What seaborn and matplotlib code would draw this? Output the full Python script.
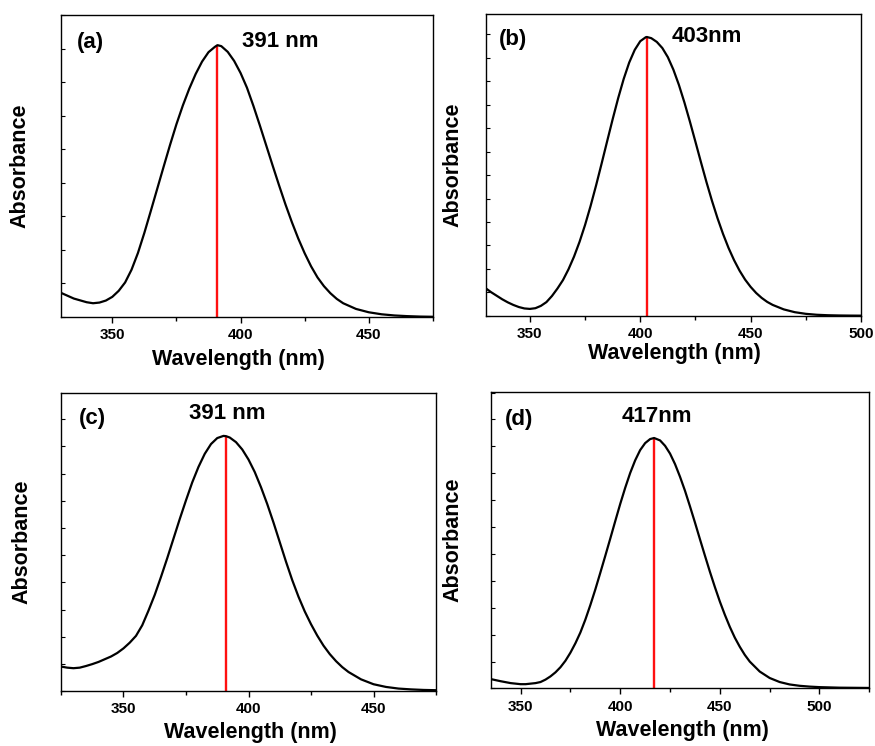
import matplotlib
matplotlib.use("Agg")
import matplotlib.pyplot as plt
from matplotlib.ticker import MultipleLocator, FixedLocator, NullFormatter
import pandas as pd
import seaborn as sns

# ---- UV-Vis spectra (wavelength in nm, absorbance in arbitrary units) ----
wl_a = [330, 335, 340, 342.5, 345, 347.5, 350, 352.5, 355, 357.5, 360, 362.5, 365, 367.5,
        370, 372.5, 375, 377.5, 380, 382.5, 385, 387.5, 390, 391, 392.5, 395, 397.5, 400,
        402.5, 405, 407.5, 410, 412.5, 415, 417.5, 420, 422.5, 425, 427.5, 430, 432.5, 435,
        437.5, 440, 445, 450, 455, 460, 465, 470, 475]
abs_a = [0.72, 0.55, 0.44, 0.41, 0.43, 0.49, 0.60, 0.78, 1.03, 1.41, 1.91, 2.51, 3.16, 3.82,
         4.48, 5.13, 5.75, 6.31, 6.81, 7.25, 7.62, 7.90, 8.06, 8.11, 8.08, 7.91, 7.64, 7.28,
         6.84, 6.30, 5.72, 5.12, 4.52, 3.93, 3.36, 2.83, 2.34, 1.90, 1.51, 1.18, 0.92, 0.71,
         0.54, 0.41, 0.24, 0.14, 0.08, 0.045, 0.025, 0.012, 0.006]

wl_b = [330, 332.5, 335, 337.5, 340, 342.5, 345, 347.5, 350, 352.5, 355, 357.5, 360, 362.5,
        365, 367.5, 370, 372.5, 375, 377.5, 380, 382.5, 385, 387.5, 390, 392.5, 395, 397.5,
        400, 402.5, 403, 405, 407.5, 410, 412.5, 415, 417.5, 420, 422.5, 425, 427.5, 430,
        432.5, 435, 437.5, 440, 442.5, 445, 447.5, 450, 452.5, 455, 457.5, 460, 465, 470,
        475, 480, 485, 490, 495, 500]
abs_b = [1.17, 1.00, 0.85, 0.70, 0.57, 0.46, 0.37, 0.31, 0.29, 0.32, 0.42, 0.58, 0.84, 1.16,
         1.52, 1.98, 2.52, 3.15, 3.87, 4.68, 5.56, 6.49, 7.44, 8.38, 9.28, 10.10, 10.80,
         11.34, 11.71, 11.88, 11.89, 11.84, 11.68, 11.42, 11.03, 10.50, 9.85, 9.10, 8.28,
         7.42, 6.55, 5.70, 4.90, 4.16, 3.49, 2.89, 2.37, 1.92, 1.54, 1.23, 0.97, 0.76, 0.59,
         0.46, 0.27, 0.15, 0.08, 0.04, 0.02, 0.01, 0.005, 0.002]

wl_c = [325, 327.5, 330, 332.5, 335, 337.5, 340, 342.5, 345, 347.5, 350, 352.5, 355, 357.5,
        360, 362.5, 365, 367.5, 370, 372.5, 375, 377.5, 380, 382.5, 385, 387.5, 390, 391,
        392.5, 395, 397.5, 400, 402.5, 405, 407.5, 410, 412.5, 415, 417.5, 420, 422.5, 425,
        427.5, 430, 432.5, 435, 437.5, 440, 445, 450, 455, 460, 465, 470, 475]
abs_c = [0.90, 0.86, 0.84, 0.86, 0.92, 0.99, 1.07, 1.17, 1.27, 1.40, 1.57, 1.78, 2.03, 2.42,
         2.96, 3.54, 4.20, 4.89, 5.61, 6.33, 7.02, 7.68, 8.25, 8.73, 9.09, 9.31, 9.39, 9.38,
         9.33, 9.16, 8.89, 8.52, 8.06, 7.50, 6.88, 6.20, 5.48, 4.76, 4.08, 3.47, 2.93, 2.46,
         2.04, 1.67, 1.36, 1.10, 0.88, 0.70, 0.43, 0.25, 0.15, 0.09, 0.06, 0.04, 0.03]

wl_d = [335, 340, 345, 350, 352.5, 355, 357.5, 360, 362.5, 365, 367.5, 370, 372.5, 375,
        377.5, 380, 382.5, 385, 387.5, 390, 392.5, 395, 397.5, 400, 402.5, 405, 407.5, 410,
        412.5, 415, 417, 420, 422.5, 425, 427.5, 430, 432.5, 435, 437.5, 440, 442.5, 445,
        447.5, 450, 452.5, 455, 457.5, 460, 462.5, 465, 470, 475, 480, 485, 490, 495, 500,
        510, 525]
abs_d = [0.35, 0.27, 0.20, 0.16, 0.16, 0.18, 0.20, 0.24, 0.33, 0.45, 0.60, 0.79, 1.03, 1.33,
         1.68, 2.08, 2.56, 3.10, 3.68, 4.30, 4.93, 5.57, 6.22, 6.86, 7.46, 8.01, 8.48, 8.86,
         9.12, 9.27, 9.31, 9.22, 9.02, 8.73, 8.34, 7.87, 7.35, 6.77, 6.17, 5.55, 4.94, 4.34,
         3.77, 3.23, 2.74, 2.29, 1.89, 1.55, 1.25, 1.00, 0.63, 0.39, 0.24, 0.15, 0.10, 0.07,
         0.05, 0.03, 0.02]

panel_tags = ["(a)", "(b)", "(c)", "(d)"]
peak_nm = [391, 403, 391, 417]
peak_abs = [8.11, 11.89, 9.38, 9.31]
peak_text = ["391 nm", "403nm", "391 nm", "417nm"]
x_limits = [(330, 475), (330, 500), (325, 475), (335, 525)]
y_tops = [9.01, 12.87, 10.98, 11.03]
x_major = [[350, 400, 450], [350, 400, 450, 500], [350, 400, 450], [350, 400, 450, 500]]

spectra = [(wl_a, abs_a), (wl_b, abs_b), (wl_c, abs_c), (wl_d, abs_d)]

# ---- layout (figure fractions) and text placement (axes fractions) ----
rects = [
    (0.0697, 0.5751, 0.4251, 0.4048),
    (0.5551, 0.5768, 0.4289, 0.4044),
    (0.0697, 0.0737, 0.4286, 0.3999),
    (0.5608, 0.0771, 0.4327, 0.3978),
]
tag_pos = [(0.078, 0.909), (0.073, 0.914), (0.084, 0.912), (0.075, 0.908)]
peak_pos = [(0.59, 0.911), (0.59, 0.927), (0.444, 0.929), (0.438, 0.918)]
ylabel_x = [-0.083, -0.060, -0.075, -0.073]
xlabel_xy = [(0.478, -0.106), (0.504, -0.092), (0.504, -0.103), (0.507, -0.106)]

sns.set_theme(style="white")
plt.rcParams["font.family"] = ["Liberation Sans", "DejaVu Sans"]
plt.rcParams["font.weight"] = "bold"
plt.rcParams["axes.labelweight"] = "bold"
plt.rcParams["text.color"] = "black"
plt.rcParams["axes.labelcolor"] = "black"
plt.rcParams["xtick.color"] = "black"
plt.rcParams["ytick.color"] = "black"

fig = plt.figure(figsize=(8.75, 7.46), dpi=100)

for i, (wl, ab) in enumerate(spectra):
    ax = fig.add_axes(rects[i])
    df = pd.DataFrame({"Wavelength (nm)": wl, "Absorbance": ab})
    sns.lineplot(data=df, x="Wavelength (nm)", y="Absorbance", ax=ax,
                 color="black", linewidth=1.6, estimator=None, sort=False, zorder=3,
                 solid_joinstyle="round", solid_capstyle="round")
    ax.vlines(peak_nm[i], 0, peak_abs[i], color="#ff1010", linewidth=1.7, zorder=2)

    ax.set_xlim(*x_limits[i])
    ax.set_ylim(0, y_tops[i])
    ax.xaxis.set_major_locator(FixedLocator(x_major[i]))
    ax.xaxis.set_minor_locator(MultipleLocator(25))
    ax.yaxis.set_major_locator(MultipleLocator(1))
    ax.yaxis.set_major_formatter(NullFormatter())

    ax.tick_params(axis="x", which="major", direction="out", length=4, width=1,
                   bottom=True, top=False, pad=4, labelsize=11)
    ax.tick_params(axis="x", which="minor", direction="out", length=3, width=1,
                   bottom=True, top=False)
    ax.tick_params(axis="y", which="major", direction="in", length=3, width=0.8,
                   left=True, right=False, labelleft=False)
    for lab in ax.get_xticklabels():
        lab.set_fontweight("bold")

    for sp in ax.spines.values():
        sp.set_color("black")
        sp.set_linewidth(1.0)

    ax.set_xlabel("Wavelength (nm)", fontsize=15.5, fontweight="bold", va="top")
    ax.set_ylabel("Absorbance", fontsize=15.5, fontweight="bold")
    ax.xaxis.set_label_coords(*xlabel_xy[i])
    ax.yaxis.set_label_coords(ylabel_x[i], 0.5)

    ax.text(*tag_pos[i], panel_tags[i], transform=ax.transAxes, fontsize=16,
            fontweight="bold", ha="center", va="center")
    ax.text(*peak_pos[i], peak_text[i], transform=ax.transAxes, fontsize=16,
            fontweight="bold", ha="center", va="center")

fig.savefig("out.png", dpi=100, facecolor="white")
